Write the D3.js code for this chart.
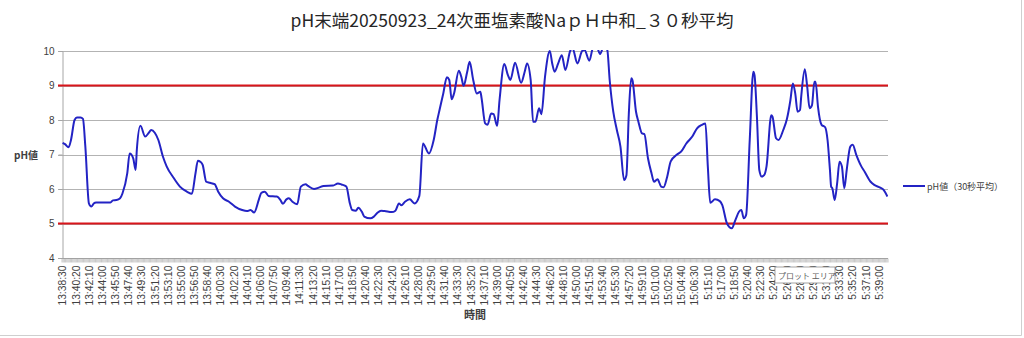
<!DOCTYPE html>
<html>
<head>
<meta charset="utf-8">
<script src="https://cdn.jsdelivr.net/npm/d3@7"></script>
<style>
  body { margin: 0; background: #fff; }
  svg { display: block; font-family: "Liberation Sans", Arial, sans-serif; }
</style>
</head>
<body>
<svg id="chart" width="1024" height="338"></svg>
<script>
// x tick labels (every 11th sample, 10 s apart)
var timeLabels = ["13:38:30","13:40:20","13:42:10","13:44:00","13:45:50","13:47:40","13:49:30","13:51:20",
  "13:53:10","13:55:00","13:56:50","13:58:40","14:00:30","14:02:20","14:04:10","14:06:00","14:07:50",
  "14:09:40","14:11:30","14:13:20","14:15:10","14:17:00","14:18:50","14:20:40","14:22:30","14:24:20",
  "14:26:10","14:28:00","14:29:50","14:31:40","14:33:30","14:35:20","14:37:10","14:39:00","14:40:50",
  "14:42:40","14:44:30","14:46:20","14:48:10","14:50:00","14:51:50","14:53:40","14:55:30","14:57:20",
  "14:59:10","15:01:00","15:02:50","15:04:40","15:06:30","5:15:10","5:17:00","5:18:50","5:20:40",
  "5:22:30","5:24:20","5:26:10","5:28:00","5:29:50","5:31:40","5:33:30","5:35:20","5:37:10","5:39:00"];
var sampleCount = 690;
var labelStep = 11;

// pH readings (sample number, value)
var sampleNo = [0,2,5,7,10,12,15,17,19,22,24,26,28,40,42,45,48,50,54,56,59,61,62,65,69,72,74,77,80,84,87,93,98,
  104,108,111,113,115,117,120,123,127,130,134,139,144,150,154,157,160,164,166,169,172,179,182,184,187,189,192,
  196,199,203,205,210,214,218,226,230,233,237,240,242,245,247,250,252,257,260,263,266,269,275,278,281,283,286,
  290,294,298,301,306,310,313,315,318,321,323,325,327,331,333,335,338,340,343,346,349,350,353,355,358,360,363,
  365,369,372,374,378,383,386,388,391,393,395,398,400,403,407,409,411,414,417,420,424,426,430,434,436,440,443,
  446,449,452,455,457,460,463,466,469,471,473,475,476,479,481,484,486,489,492,494,497,500,502,505,508,513,517,
  521,526,530,534,537,539,541,545,549,551,555,559,562,565,567,569,571,574,577,578,580,582,584,586,588,592,593,
  596,598,602,605,608,610,612,614,616,617,620,622,624,626,628,629,631,634,637,639,641,642,643,645,647,649,651,
  653,655,658,660,663,667,670,675,678,683,686,689];
var phValue = [7.34,7.30,7.21,7.42,8.00,8.07,8.07,8.03,7.23,5.58,5.49,5.58,5.61,5.61,5.67,5.68,5.73,5.87,6.45,7.03,
  6.89,6.55,7.13,7.83,7.52,7.63,7.71,7.63,7.42,6.92,6.65,6.31,6.07,5.92,5.86,6.45,6.82,6.79,6.70,6.21,6.18,6.14,
  5.92,5.73,5.63,5.49,5.39,5.36,5.39,5.32,5.70,5.89,5.92,5.80,5.78,5.68,5.57,5.70,5.73,5.63,5.56,6.07,6.14,6.09,
  6.00,6.04,6.09,6.10,6.16,6.13,6.07,5.58,5.39,5.37,5.46,5.34,5.20,5.15,5.20,5.31,5.37,5.36,5.33,5.37,5.58,5.53,
  5.63,5.70,5.58,5.80,7.32,7.03,7.42,8.00,8.31,8.77,9.24,9.16,8.60,8.77,9.43,9.26,8.99,9.40,9.69,9.16,8.77,8.82,
  8.63,7.90,7.86,8.19,8.17,7.83,8.58,9.62,9.30,9.16,9.66,9.08,9.40,9.64,9.16,7.95,7.95,8.34,8.17,9.26,10.00,9.64,
  9.40,9.64,9.88,9.45,10.00,10.08,9.64,10.00,10.03,9.72,10.08,10.13,9.91,10.13,10.03,9.16,8.24,7.71,7.23,6.26,
  6.40,8.19,9.21,9.16,8.24,7.95,7.61,7.59,6.89,6.45,6.21,6.28,6.07,6.05,6.35,6.80,6.99,7.10,7.32,7.52,7.76,7.86,
  7.90,6.65,5.60,5.70,5.65,5.54,5.00,4.86,5.10,5.34,5.39,5.15,5.25,7.42,9.40,9.30,8.10,6.55,6.36,6.40,6.65,8.14,
  8.10,7.47,7.42,7.71,8.02,8.58,9.06,8.77,8.24,8.29,8.68,9.47,8.97,8.34,8.43,9.11,9.11,8.39,7.86,7.79,7.42,6.55,
  6.07,6.02,5.68,6.16,6.79,6.65,6.02,6.55,7.23,7.28,6.99,6.67,6.50,6.21,6.12,6.04,5.97,5.78];

var limitLines = [9, 5];
var yTicks = [4, 5, 6, 7, 8, 9, 10];

var title = "pH末端20250923_24次亜塩素酸NaｐＨ中和_３０秒平均";
var seriesName = "pH値（30秒平均）";

var plot = {left: 62, right: 888, top: 51, bottom: 258};

var svg = d3.select("#chart");

var x = d3.scaleLinear().domain([0, sampleCount]).range([plot.left, plot.right]);
var y = d3.scaleLinear().domain([4, 10]).range([plot.bottom, plot.top]);

// outer chart frame (right / bottom edges visible)
svg.append("path")
    .attr("d", "M1021.5,0 V335.5 H0")
    .attr("fill", "none")
    .attr("stroke", "#cfcfcf");

svg.append("text")
    .attr("x", 512).attr("y", 27)
    .attr("text-anchor", "middle")
    .style("font-family", "'Noto Sans CJK JP', sans-serif")
    .style("font-size", "17.5px")
    .attr("fill", "#262626")
    .text(title);

// gridlines
svg.append("g").selectAll("line")
    .data(yTicks.filter(function(d) { return d > 4; }))
    .enter().append("line")
    .attr("x1", plot.left - 4).attr("x2", plot.right)
    .attr("y1", function(d) { return Math.round(y(d)) + 0.5; })
    .attr("y2", function(d) { return Math.round(y(d)) + 0.5; })
    .attr("stroke", "#b3b3b3")
    .attr("stroke-width", 1.2);

// y axis
var yAxis = svg.append("g")
    .attr("transform", "translate(" + (plot.left + 0.5) + ",0)")
    .call(d3.axisLeft(y).tickValues(yTicks).tickSize(4).tickFormat(d3.format("d")));
yAxis.selectAll("path, line").attr("stroke", "#a6a6a6");
yAxis.selectAll("text")
    .attr("fill", "#404040")
    .style("font-size", "10px")
    .attr("x", -8);

// x axis with one tick per sample
var xAxisG = svg.append("g")
    .attr("transform", "translate(0," + (plot.bottom + 0.5) + ")");
xAxisG.append("line")
    .attr("x1", plot.left - 4).attr("x2", plot.right)
    .attr("stroke", "#a6a6a6").attr("stroke-width", 1.2);
xAxisG.selectAll(".mt")
    .data(d3.range(0, sampleCount + 1))
    .enter().append("line")
    .attr("class", "mt")
    .attr("x1", function(d) { return x(d); })
    .attr("x2", function(d) { return x(d); })
    .attr("y1", 0).attr("y2", 4)
    .attr("stroke", "#9a9a9a")
    .attr("stroke-width", 0.55);
xAxisG.selectAll(".lbl")
    .data(timeLabels)
    .enter().append("text")
    .attr("class", "lbl")
    .attr("transform", function(d, i) {
        return "translate(" + (x(i * labelStep + 0.5) + 3.8) + ",7) rotate(-90)";
    })
    .attr("text-anchor", "end")
    .attr("fill", "#404040")
    .style("font-size", "10.3px")
    .text(function(d) { return d; });

// limit lines
svg.append("g").selectAll("line")
    .data(limitLines)
    .enter().append("line")
    .attr("x1", plot.left - 4).attr("x2", plot.right)
    .attr("y1", function(d) { return y(d); })
    .attr("y2", function(d) { return y(d); })
    .attr("stroke", "#d9141a")
    .attr("stroke-width", 2);

// pH line
svg.append("clipPath").attr("id", "clip")
    .append("rect")
    .attr("x", plot.left).attr("y", plot.top - 1)
    .attr("width", plot.right - plot.left).attr("height", plot.bottom - plot.top + 1);

var pts = sampleNo.map(function(s, i) { return [s, phValue[i]]; });
var line = d3.line()
    .x(function(d) { return x(d[0] + 0.5); })
    .y(function(d) { return y(d[1]); })
    .curve(d3.curveMonotoneX);

svg.append("path")
    .datum(pts)
    .attr("clip-path", "url(#clip)")
    .attr("d", line)
    .attr("fill", "none")
    .attr("stroke", "#2323c4")
    .attr("stroke-width", 2)
    .attr("stroke-linejoin", "round");

// axis titles
svg.append("text")
    .attr("x", 475).attr("y", 319)
    .attr("text-anchor", "middle")
    .style("font-family", "'Noto Sans CJK JP', sans-serif")
    .style("font-size", "11px").style("font-weight", "bold")
    .attr("fill", "#404040")
    .text("時間");
svg.append("text")
    .attr("x", 26).attr("y", 159)
    .attr("text-anchor", "middle")
    .style("font-family", "'Noto Sans CJK JP', sans-serif")
    .style("font-size", "10px").style("font-weight", "bold")
    .attr("fill", "#404040")
    .text("pH値");

// legend
svg.append("line")
    .attr("x1", 903).attr("x2", 925)
    .attr("y1", 186).attr("y2", 186)
    .attr("stroke", "#2323c4").attr("stroke-width", 2);
svg.append("text")
    .attr("x", 927).attr("y", 189.5)
    .style("font-family", "'Noto Sans CJK JP', sans-serif")
    .style("font-size", "9px")
    .attr("fill", "#404040")
    .text(seriesName);

// hover tip that was on screen
var tip = svg.append("g").attr("transform", "translate(775,267)");
tip.append("rect")
    .attr("width", 60).attr("height", 16)
    .attr("fill", "#fff").attr("stroke", "#8c8c8c").attr("stroke-width", 0.8);
tip.append("text")
    .attr("x", 3).attr("y", 11.5)
    .style("font-family", "'Noto Sans CJK JP', sans-serif")
    .style("font-size", "8px")
    .attr("fill", "#606060")
    .text("プロット エリア");
</script>
</body>
</html>
